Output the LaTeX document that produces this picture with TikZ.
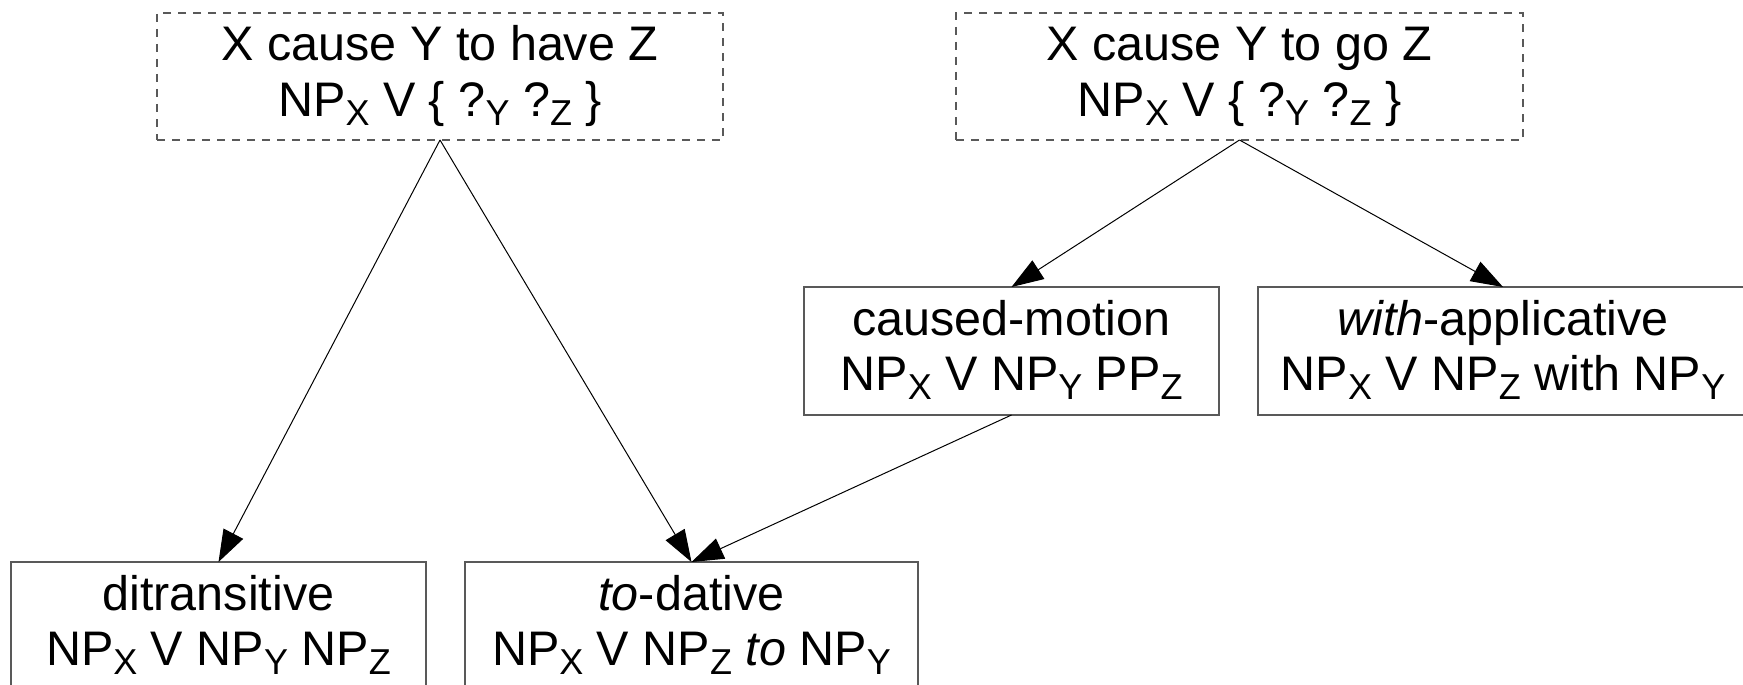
\documentclass[tikz,border=0pt]{standalone}
\usepackage{fontspec}
\setmainfont{Liberation Sans}
\usetikzlibrary{arrows.meta}

% lowered, reduced-size index letter
\newcommand{\sbs}[1]{\raisebox{-0.2em}{\fontsize{36}{36}\selectfont #1}}

\begin{document}
\begin{tikzpicture}[x=1pt,y=-1pt,
  every node/.style={font=\fontsize{48.5}{56}\selectfont, inner sep=0pt, outer sep=0pt},
  frame/.style={draw=black!65, line width=1.2pt},
  dashframe/.style={frame, dash pattern=on 8pt off 7pt},
  txt/.style={anchor=base},
  link/.style={draw=black, line width=1pt, -{Triangle[length=32pt,width=22pt]}}
]
\useasboundingbox (0,0) rectangle (1743,685);
\clip (0,0) rectangle (1743,685);

% abstract event-structure frames
\node[dashframe, minimum width=566pt, minimum height=127pt] (have) at (440,76.5) {};
\node[txt] (have1) at (440,61) {X cause Y to have Z};
\node[txt] (have2) at (440,116) {NP\sbs{X} V \{ ?\sbs{Y} ?\sbs{Z} \}};

\node[dashframe, minimum width=567pt, minimum height=127pt] (go) at (1239.5,76.5) {};
\node[txt] (go1) at (1239.5,61) {X cause Y to go Z};
\node[txt] (go2) at (1239.5,116) {NP\sbs{X} V \{ ?\sbs{Y} ?\sbs{Z} \}};

% middle row
\node[frame, minimum width=415pt, minimum height=128pt] (cm) at (1011.5,351) {};
\node[txt] (cm1) at (1011.5,335) {caused-motion};
\node[txt] (cm2) at (1011.5,390) {NP\sbs{X} V NP\sbs{Y} PP\sbs{Z}};

\node[frame, minimum width=490pt, minimum height=128pt] (wa) at (1503,351) {};
\node[txt] (wa1) at (1503,335) {\textit{with}-applicative};
\node[txt] (wa2) at (1503,390) {NP\sbs{X} V NP\sbs{Z} with NP\sbs{Y}};

% bottom row
\node[frame, minimum width=415pt, minimum height=128pt] (dt) at (218.5,626) {};
\node[txt] (dt1) at (218.5,610) {ditransitive};
\node[txt] (dt2) at (218.5,665) {NP\sbs{X} V NP\sbs{Y} NP\sbs{Z}};

\node[frame, minimum width=453pt, minimum height=128pt] (td) at (691.5,626) {};
\node[txt] (td1) at (691.5,610) {\textit{to}-dative};
\node[txt] (td2) at (691.5,665) {NP\sbs{X} V NP\sbs{Z} \textit{to} NP\sbs{Y}};

% connectors
\draw[link] (have.south) -- (dt.north);
\draw[link] (have.south) -- (td.north);
\draw[link] (go.south) -- (cm.north);
\draw[link] (go.south) -- (wa.north);
\draw[link] (cm.south) -- (td.north);
\end{tikzpicture}
\end{document}
